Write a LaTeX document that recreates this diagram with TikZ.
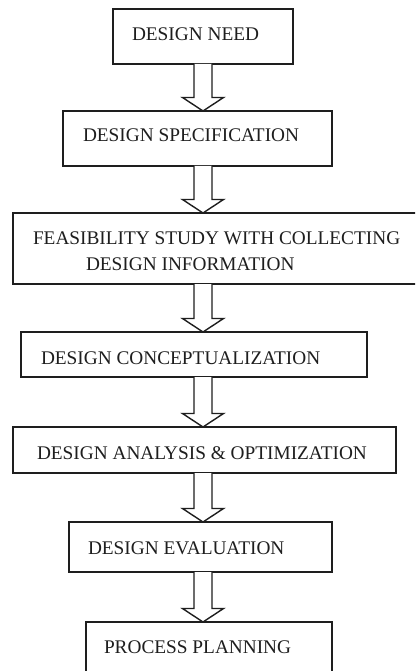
\documentclass[tikz,border=0pt]{standalone}
\usepackage{fontspec}
\setmainfont{Liberation Serif}
\usetikzlibrary{calc}
\definecolor{ink}{HTML}{1E1E1E}
\tikzset{
  box/.style={draw=ink, line width=1.4pt, rectangle, inner sep=0pt, outer sep=0pt, fill=white},
  lbl/.style={anchor=base west, inner sep=0pt, outer sep=0pt, text=ink, font=\fontsize{19.3}{23}\selectfont},
  hollow/.style={draw=ink, line width=1.4pt, fill=white, line join=miter}
}
\newcommand\harrow[2]{%
  \draw[hollow] let \p1=(#1.south), \p2=(#2.north) in
    (194,\y1) -- (194,\y2+13.5) -- (182.5,\y2+13.5) -- (203,\y2) -- (223.5,\y2+13.5) -- (212,\y2+13.5) -- (212,\y1);}
\begin{document}
\begin{tikzpicture}[x=1pt,y=1pt]
\useasboundingbox (0,0) rectangle (415,-671);
\clip (0,0) rectangle (415,-671);
\fill[white] (0,0) rectangle (415,-671);
\node[box, minimum width=180pt, minimum height=55pt] (b1) at (203,-36.5) {};
\node[box, minimum width=269pt, minimum height=55pt] (b2) at (197.5,-138.5) {};
\node[box, minimum width=412pt, minimum height=71pt] (b3) at (219,-248.5) {};
\node[box, minimum width=346pt, minimum height=45pt] (b4) at (194,-354.5) {};
\node[box, minimum width=383pt, minimum height=46pt] (b5) at (204.5,-450) {};
\node[box, minimum width=263pt, minimum height=50pt] (b6) at (200.5,-547) {};
\node[box, minimum width=246pt, minimum height=68pt] (b7) at (209,-656) {};
\harrow{b1}{b2}
\harrow{b2}{b3}
\harrow{b3}{b4}
\harrow{b4}{b5}
\harrow{b5}{b6}
\harrow{b6}{b7}
\node[lbl] (t1) at (132,-41) {DESIGN NEED};
\node[lbl] (t2) at (83,-142) {DESIGN SPECIFICATION};
\node[lbl] (t3a) at (33,-244) {FEASIBILITY STUDY WITH COLLECTING};
\node[lbl] (t3b) at (86,-270) {DESIGN INFORMATION};
\node[lbl] (t4) at (41,-364) {DESIGN CONCEPTUALIZATION};
\node[lbl] (t5) at (37,-459) {DESIGN ANALYSIS \& OPTIMIZATION};
\node[lbl] (t6) at (88,-554) {DESIGN EVALUATION};
\node[lbl] (t7) at (104,-653) {PROCESS PLANNING};
\end{tikzpicture}
\end{document}
